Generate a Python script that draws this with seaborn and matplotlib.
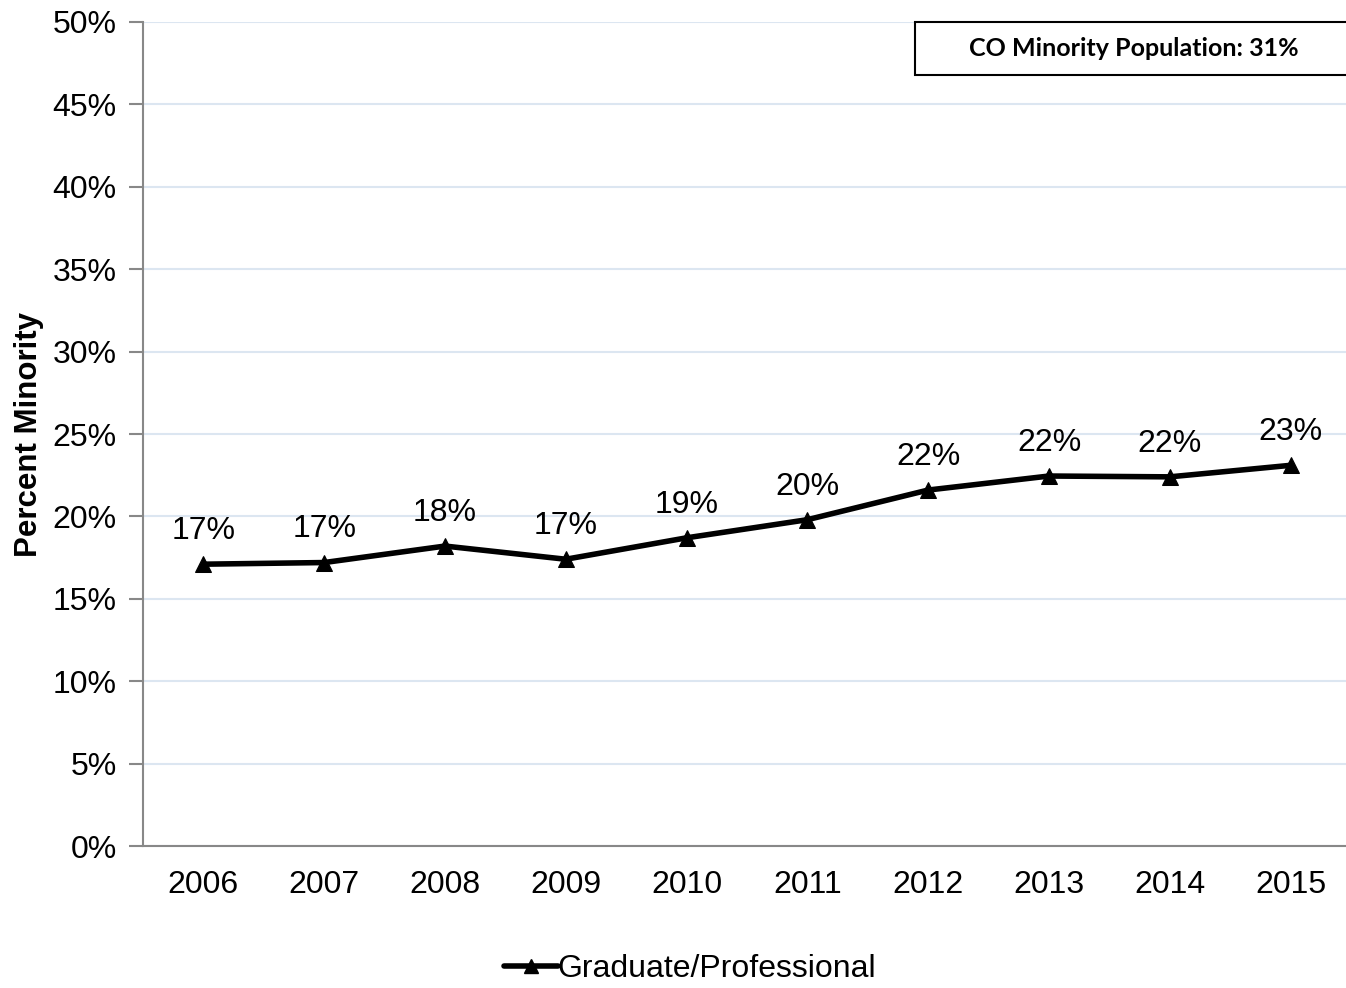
import matplotlib
matplotlib.use("Agg")
import matplotlib.pyplot as plt
import seaborn as sns
import pandas as pd
from matplotlib.patches import Rectangle
from matplotlib.lines import Line2D

years = ["2006", "2007", "2008", "2009", "2010", "2011", "2012", "2013", "2014", "2015"]
values = [17.1, 17.2, 18.2, 17.4, 18.7, 19.8, 21.6, 22.45, 22.4, 23.1]
labels = ["17%", "17%", "18%", "17%", "19%", "20%", "22%", "22%", "22%", "23%"]
series_name = "Graduate/Professional"
box_text = "CO Minority Population: 31%"
yticks = [0, 5, 10, 15, 20, 25, 30, 35, 40, 45, 50]

sns.set_theme(style="white")
plt.rcParams['font.family'] = ['Liberation Sans', 'DejaVu Sans']
plt.rcParams['text.color'] = 'black'
plt.rcParams['xtick.color'] = 'black'
plt.rcParams['ytick.color'] = 'black'
plt.rcParams['axes.labelcolor'] = 'black'

FS = 23

df = pd.DataFrame({"year": years, "value": values})

fig = plt.figure(figsize=(13.46, 9.88), dpi=100)
ax = fig.add_axes([143/1346, 1-846/988, 1-143/1346 + 5/1346, (846-22)/988])

sns.lineplot(data=df, x="year", y="value", ax=ax, color="black", linewidth=4,
             marker="^", markersize=12, markeredgecolor="black", sort=False)

for i, (v, lab) in enumerate(zip(values, labels)):
    ax.annotate(lab, (i, v), xytext=(0, 13), textcoords="offset points",
                ha="center", va="bottom", fontsize=FS, color="black")

ax.set_xlim(-0.5, len(years) - 0.5)
ax.set_ylim(0, 50)
ax.set_yticks(yticks)
ax.set_yticklabels([f"{t}%" for t in yticks], fontsize=FS)
ax.set_xticks(range(len(years)))
ax.set_xticklabels(years, fontsize=FS)
ax.set_xticks([i - 0.5 for i in range(len(years) + 1)], minor=True)
ax.tick_params(axis="x", which="major", length=0, pad=17)
ax.tick_params(axis="x", which="minor", length=8, color="#888888", width=1.5, direction="out")
ax.tick_params(axis="y", which="major", length=10, color="#888888", width=1.5, pad=9, left=True)
ax.set_xlabel("")
ax.set_ylabel("Percent Minority", fontsize=22.5, fontweight="bold", labelpad=6)

ax.yaxis.grid(True, color="#dce6f1", linewidth=1.5)
ax.xaxis.grid(False)
ax.set_axisbelow(True)
for s in ["top", "right"]:
    ax.spines[s].set_visible(False)
for s in ["left", "bottom"]:
    ax.spines[s].set_color("#888888")
    ax.spines[s].set_linewidth(1.5)

# annotation box
fig.patches.append(Rectangle((915/1346, 1-75/988), 440/1346, 53/988,
                             transform=fig.transFigure, facecolor="white",
                             edgecolor="black", linewidth=1.5, zorder=5))
fig.text(1134/1346, 1-49/988, box_text, ha="center", va="center", fontsize=18,
         fontweight="bold", family=["Lato", "DejaVu Sans"], zorder=6)

handle = Line2D([], [], color="black", linewidth=4, marker="^", markersize=10)
fig.legend([handle], [series_name], loc="center", bbox_to_anchor=(690/1346, 1-969/988),
           frameon=False, fontsize=FS, handlelength=1.7, handletextpad=0.0)

fig.savefig("out.png", dpi=100)
